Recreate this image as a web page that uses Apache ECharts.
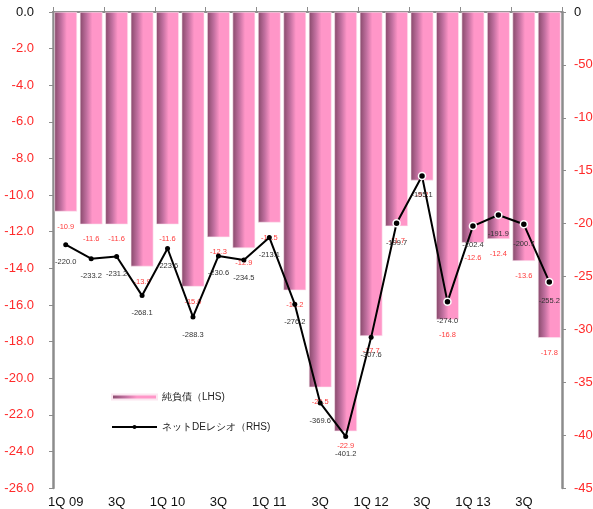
<!DOCTYPE html>
<html>
<head>
<meta charset="utf-8">
<script src="https://cdn.jsdelivr.net/npm/echarts@6/dist/echarts.min.js"></script>
<style>
  html, body { margin: 0; padding: 0; background: #fff; }
  #chart { width: 593px; height: 509px; }
</style>
</head>
<body>
<div id="chart"></div>
<script>
// Quarterly categories, 1Q 2009 – 4Q 2013
const quarters = [
  '1Q 09', '2Q', '3Q', '4Q',
  '1Q 10', '2Q', '3Q', '4Q',
  '1Q 11', '2Q', '3Q', '4Q',
  '1Q 12', '2Q', '3Q', '4Q',
  '1Q 13', '2Q', '3Q', '4Q'
];

// Net debt (left axis)
const netDebt = [
  -10.9, -11.6, -11.6, -13.9,
  -11.6, -15.0, -12.3, -12.9,
  -11.5, -15.2, -20.5, -22.9,
  -17.7, -11.7, -9.2, -16.8,
  -12.6, -12.4, -13.6, -17.8
];

// Net D/E ratio (right axis)
const netDeRatio = [
  -220.0, -233.2, -231.2, -268.1,
  -223.6, -288.3, -230.6, -234.5,
  -213.1, -276.2, -369.6, -401.2,
  -307.6, -199.7, -155.1, -274.0,
  -202.4, -191.9, -200.7, -255.2
];

// Axis ranges
const leftAxis = { min: -26, max: 0, interval: 2 };
const rightAxis = { min: -450, max: 0, interval: 50 };

const seriesNames = ['純負債（LHS)', 'ネットDEレシオ（RHS)'];

const FONT = 'Liberation Sans, Arial, sans-serif';
const AXIS_GREY = '#8c8c8c';

const barGradient = new echarts.graphic.LinearGradient(0, 0, 1, 0, [
  { offset: 0, color: '#86496a' },
  { offset: 0.3, color: '#c270a0' },
  { offset: 0.55, color: '#ff96c8' },
  { offset: 1, color: '#ff96c8' }
]);

// later points are drawn with a white ring
const lineData = netDeRatio.map((v, i) => i >= 13
  ? { value: v, symbolSize: 7, itemStyle: { color: '#000', borderColor: '#fff', borderWidth: 1.5 } }
  : { value: v });

const chart = echarts.init(document.getElementById('chart'), null, { renderer: 'canvas' });

chart.setOption({
  animation: false,
  backgroundColor: '#fff',
  textStyle: { fontFamily: FONT },
  // fixed plot rectangle; the right-hand tick labels run off the edge
  grid: { left: 53, right: 31, top: 12, bottom: 21, containLabel: false, outerBoundsMode: 'none' },
  legend: {
    orient: 'vertical',
    left: 106,
    top: 387,
    itemWidth: 45,
    itemHeight: 5,
    itemGap: 20,
    textStyle: { fontSize: 10, color: '#222', fontFamily: FONT },
    data: [
      { name: seriesNames[0], icon: 'rect' },
      { name: seriesNames[1] }
    ]
  },
  xAxis: [
    {
      type: 'category',
      position: 'top',
      data: quarters,
      axisLine: { show: true, lineStyle: { color: AXIS_GREY, width: 2 } },
      axisTick: { show: true, length: 5, lineStyle: { color: AXIS_GREY, width: 1 } },
      axisLabel: { show: false },
      splitLine: { show: false }
    },
    {
      type: 'category',
      position: 'bottom',
      data: quarters,
      axisLine: { show: true, lineStyle: { color: AXIS_GREY, width: 2 } },
      axisTick: { show: false },
      axisLabel: { interval: 1, color: '#111', fontSize: 13, margin: 8, fontFamily: FONT },
      splitLine: { show: false }
    }
  ],
  yAxis: [
    {
      type: 'value',
      position: 'left',
      min: leftAxis.min,
      max: leftAxis.max,
      interval: leftAxis.interval,
      axisLine: { show: true, lineStyle: { color: AXIS_GREY, width: 2.5 } },
      axisTick: { show: true, length: 4, lineStyle: { color: AXIS_GREY } },
      axisLabel: {
        fontSize: 13,
        margin: 19,
        fontFamily: FONT,
        formatter: v => v.toFixed(1),
        color: v => (Number(v) === 0 ? '#111' : '#ff2a2a')
      },
      splitLine: { show: false }
    },
    {
      type: 'value',
      position: 'right',
      min: rightAxis.min,
      max: rightAxis.max,
      interval: rightAxis.interval,
      axisLine: { show: true, lineStyle: { color: AXIS_GREY, width: 2.5 } },
      axisTick: { show: true, length: 4, lineStyle: { color: AXIS_GREY } },
      axisLabel: {
        fontSize: 13,
        margin: 12,
        fontFamily: FONT,
        formatter: v => String(v),
        color: v => (Number(v) === 0 ? '#111' : '#ff2a2a')
      },
      splitLine: { show: false }
    }
  ],
  series: [
    {
      name: seriesNames[0],
      type: 'bar',
      xAxisIndex: 0,
      yAxisIndex: 0,
      data: netDebt,
      barCategoryGap: '11%',
      itemStyle: { color: barGradient, borderColor: '#fbe6f0', borderWidth: 0.6 },
      label: {
        show: true,
        position: 'bottom',
        distance: 11,
        color: '#ff3b3b',
        fontSize: 7.5,
        fontFamily: FONT,
        formatter: p => p.value.toFixed(1)
      },
      z: 2
    },
    {
      name: seriesNames[1],
      type: 'line',
      xAxisIndex: 0,
      yAxisIndex: 1,
      data: lineData,
      symbol: 'circle',
      symbolSize: 5,
      lineStyle: { color: '#000', width: 2 },
      itemStyle: { color: '#000' },
      label: {
        show: true,
        position: 'bottom',
        distance: 11,
        color: '#333',
        fontSize: 7.5,
        fontFamily: FONT,
        formatter: p => p.value.toFixed(1)
      },
      z: 3
    }
  ]
});
</script>
</body>
</html>
